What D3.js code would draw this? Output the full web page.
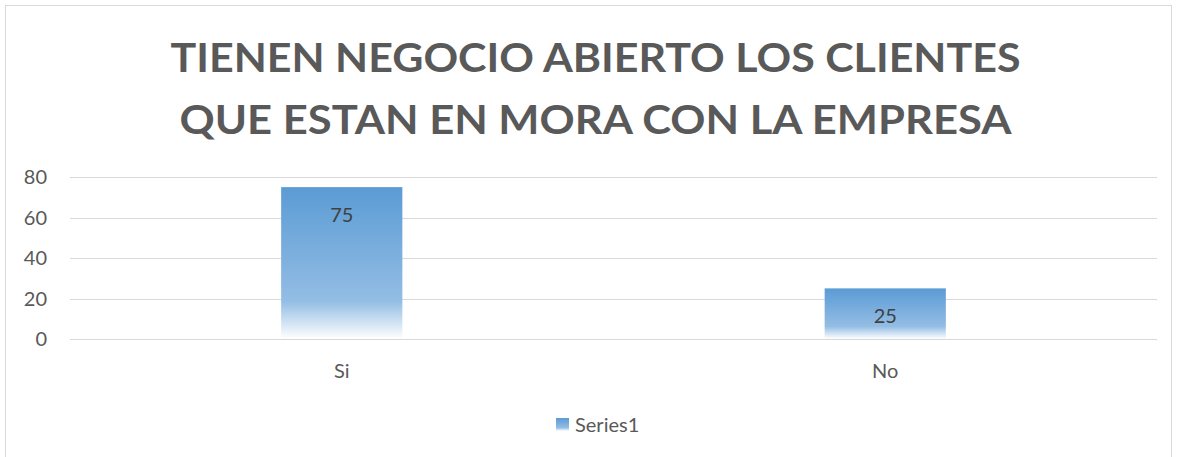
<!DOCTYPE html>
<html>
<head>
<meta charset="utf-8">
<script src="https://cdn.jsdelivr.net/npm/d3@7"></script>
<style>
  body { margin: 0; background: #fff; }
  text { font-family: Lato, "Open Sans", sans-serif; }
</style>
</head>
<body>
<div id="chart"></div>
<script>
const titleLines = ["TIENEN NEGOCIO ABIERTO LOS CLIENTES", "QUE ESTAN EN MORA CON LA EMPRESA"];
const categories = ["Si", "No"];
const values = [75, 25];
const yTicks = [0, 20, 40, 60, 80];
const seriesName = "Series1";

const W = 1177, H = 457;
const margin = { top: 177, right: 20, bottom: 118, left: 70 };
const width = W - margin.left - margin.right,
  height = H - margin.top - margin.bottom;

const svg = d3.select("#chart").append("svg")
  .attr("width", W).attr("height", H);

// gradient fill like the Excel bars
const defs = svg.append("defs");
const grad = defs.append("linearGradient")
  .attr("id", "barGrad").attr("x1", 0).attr("y1", 0).attr("x2", 0).attr("y2", 1);
grad.append("stop").attr("offset", "0%").attr("stop-color", "#5b9bd5");
grad.append("stop").attr("offset", "75%").attr("stop-color", "#93bde4");
grad.append("stop").attr("offset", "100%").attr("stop-color", "#ffffff");

// chart border
svg.append("rect")
  .attr("x", 5.5).attr("y", 5.5).attr("width", 1166).attr("height", 460)
  .attr("fill", "none").attr("stroke", "#d9d9d9");

// title
svg.append("g").selectAll("text")
  .data(titleLines)
  .join("text")
  .attr("x", W / 2 + 7)
  .attr("y", (d, i) => 72 + i * 62)
  .attr("text-anchor", "middle")
  .attr("font-size", "41px")
  .attr("font-weight", "bold")
  .attr("fill", "#595959")
  .attr("textLength", (d, i) => (i === 0 ? 850 : 832))
  .attr("lengthAdjust", "spacingAndGlyphs")
  .text((d) => d);

const g = svg.append("g").attr("transform", `translate(${margin.left},${margin.top})`);

const x = d3.scaleBand().domain(categories).range([0, width]).padding(0);
const y = d3.scaleLinear().domain([0, 80]).range([height, 0]);

// gridlines
g.append("g").selectAll("line")
  .data(yTicks)
  .join("line")
  .attr("x1", 0).attr("x2", width)
  .attr("y1", (d) => Math.round(y(d)) + 0.5).attr("y2", (d) => Math.round(y(d)) + 0.5)
  .attr("stroke", "#d9d9d9").attr("stroke-width", 1);

// y labels
g.append("g").selectAll("text")
  .data(yTicks)
  .join("text")
  .attr("x", -23)
  .attr("y", (d) => y(d))
  .attr("dy", "0.35em")
  .attr("text-anchor", "end")
  .attr("font-size", "20px")
  .attr("fill", "#595959")
  .text((d) => d);

// bars
const barW = x.bandwidth() * 0.223;
g.append("g").selectAll("rect")
  .data(values)
  .join("rect")
  .attr("x", (d, i) => x(categories[i]) + x.bandwidth() / 2 - barW / 2)
  .attr("y", (d) => y(d))
  .attr("width", barW)
  .attr("height", (d) => y(0) - y(d))
  .attr("fill", "url(#barGrad)");

// data labels
g.append("g").selectAll("text")
  .data(values)
  .join("text")
  .attr("x", (d, i) => x(categories[i]) + x.bandwidth() / 2)
  .attr("y", (d) => y(d) + 28)
  .attr("dy", "0.35em")
  .attr("text-anchor", "middle")
  .attr("font-size", "20px")
  .attr("fill", "#404040")
  .text((d) => d);

// category labels
g.append("g").selectAll("text")
  .data(categories)
  .join("text")
  .attr("x", (d) => x(d) + x.bandwidth() / 2)
  .attr("y", height + 32)
  .attr("dy", "0.35em")
  .attr("text-anchor", "middle")
  .attr("font-size", "20px")
  .attr("fill", "#595959")
  .text((d) => d);

// legend
const leg = svg.append("g").attr("transform", "translate(556,418)");
leg.append("rect").attr("width", 13).attr("height", 13).attr("fill", "url(#barGrad)");
leg.append("text")
  .attr("x", 19).attr("y", 7).attr("dy", "0.35em")
  .attr("font-size", "20px").attr("fill", "#595959")
  .text(seriesName);
</script>
</body>
</html>
